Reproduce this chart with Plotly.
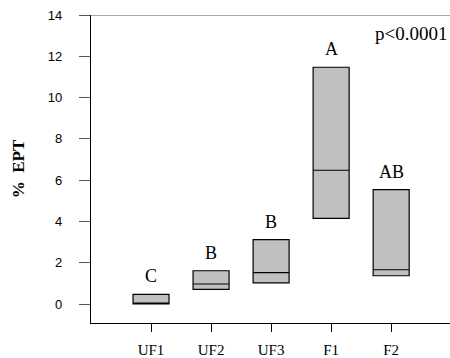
import plotly.graph_objects as go

categories = ["UF1", "UF2", "UF3", "F1", "F2"]
q1 = [0.0, 0.71, 1.02, 4.15, 1.37]
median = [0.0, 0.97, 1.52, 6.48, 1.66]
q3 = [0.47, 1.61, 3.12, 11.47, 5.54]
letters = ["C", "B", "B", "A", "AB"]
y_ticks = [0, 2, 4, 6, 8, 10, 12, 14]
p_text = "p<0.0001"

serif = "Liberation Serif, Times New Roman, serif"
sans = "Liberation Sans, Arial, sans-serif"

fig = go.Figure()
fig.add_trace(go.Box(
    x=categories,
    q1=q1, median=median, q3=q3,
    lowerfence=q1, upperfence=q3,
    width=0.6, whiskerwidth=0,
    fillcolor="#c0c0c0",
    line=dict(color="black", width=1.2),
    showlegend=False, hoverinfo="skip",
))

for c, top, lab in zip(categories, q3, letters):
    fig.add_annotation(x=c, y=top, text=lab, showarrow=False,
                       yanchor="middle", yshift=18,
                       font=dict(family=serif, size=18, color="black"))

fig.add_annotation(x=1, y=14, xref="paper", yref="y", text=p_text,
                   showarrow=False, xanchor="right", yanchor="middle",
                   xshift=-1, yshift=-18,
                   font=dict(family=serif, size=19, color="black"))

fig.add_shape(type="line", xref="paper", yref="y", x0=0, x1=1, y0=14, y1=14,
              line=dict(color="#555555", width=1.2))

fig.update_layout(
    width=450, height=358,
    margin=dict(l=91, r=0, t=15, b=35),
    plot_bgcolor="white", paper_bgcolor="white",
    xaxis=dict(
        type="category", range=[-1, 4.98],
        showline=True, linecolor="black", linewidth=1.2,
        ticks="outside", ticklen=8, tickcolor="black", tickwidth=1.2,
        showgrid=False, zeroline=False,
        tickfont=dict(family=serif, size=15, color="black"),
        ticklabelstandoff=5,
    ),
    yaxis=dict(
        range=[-0.92, 14],
        tickvals=y_ticks,
        showline=True, linecolor="black", linewidth=1.2,
        ticks="outside", ticklen=11, tickcolor="#555555", tickwidth=1.2,
        showgrid=False, zeroline=False,
        tickfont=dict(family=sans, size=13, color="black"),
        ticklabelstandoff=14,
        title=dict(text="<b>%  EPT</b>", standoff=18,
                   font=dict(family=serif, size=17, color="black")),
    ),
)

fig.write_html("out.html")
